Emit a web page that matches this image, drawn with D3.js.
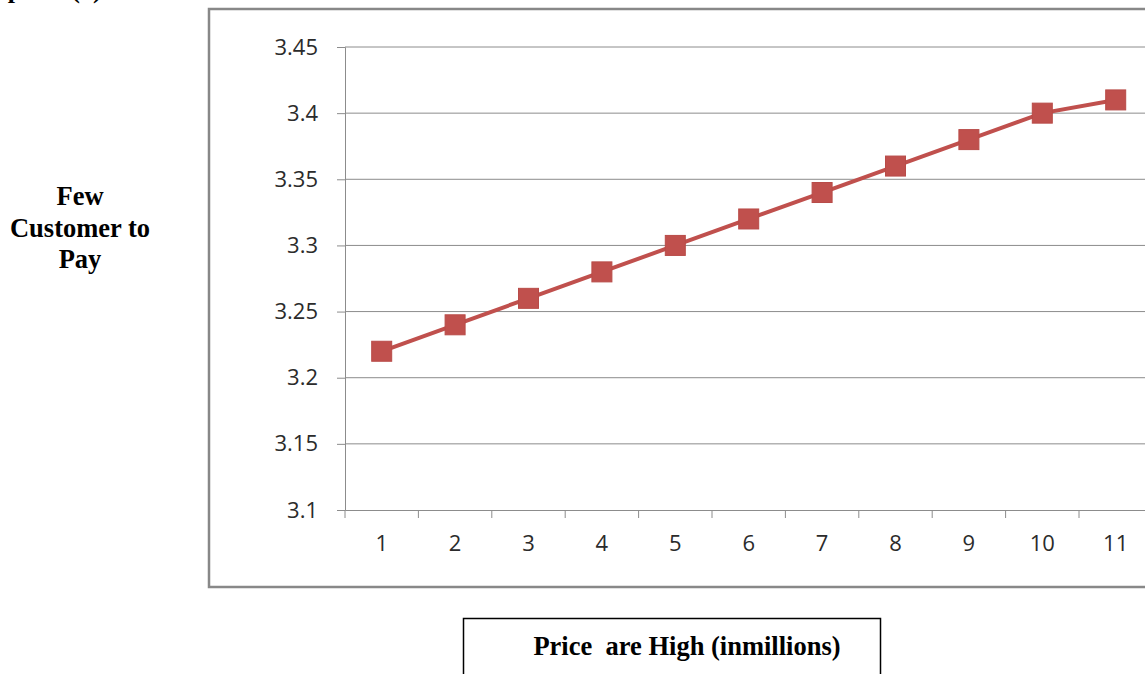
<!DOCTYPE html>
<html><head><meta charset="utf-8">
<script src="https://cdn.jsdelivr.net/npm/d3@7/dist/d3.min.js"></script>
<style>body{margin:0;background:#fff;overflow:hidden}</style>
</head><body>
<svg id="c" width="1145" height="674"></svg>
<script>
const categories = ["1","2","3","4","5","6","7","8","9","10","11"];
const values = [3.22,3.24,3.26,3.28,3.30,3.32,3.34,3.36,3.38,3.40,3.41];
const yTicks = [3.1,3.15,3.2,3.25,3.3,3.35,3.4,3.45];
const yLabelLines = ["Few","Customer to","Pay"];
const xTitle = "Price  are High (inmillions)";
const heading = "Graph:    (6)";

const svg = d3.select("#c");
const pLeft = 345, pTop = 47, pBottom = 510, pRight = 345 + 11*73.4;

// outer frame
svg.append("rect").attr("x",209).attr("y",9).attr("width",1000).attr("height",578)
  .attr("fill","none").attr("stroke","#888").attr("stroke-width",2.5);

// cut-off heading at top
svg.append("text").attr("x",-37).attr("y",-2).attr("font-family","Liberation Serif")
  .attr("font-weight","bold").attr("font-size",26).attr("fill","#000")
  .style("white-space","pre").text(heading);

const x = d3.scaleBand().domain(categories).range([pLeft,pRight]);
const y = d3.scaleLinear().domain([3.1,3.45]).range([pBottom,pTop]);

// gridlines
svg.append("g").selectAll("line").data(yTicks.slice(1)).join("line")
  .attr("x1",pLeft).attr("x2",pRight).attr("y1",d=>y(d)).attr("y2",d=>y(d))
  .attr("stroke","#8c8c8c").attr("stroke-width",1);

const fontAxis = "'Open Sans', 'Noto Sans', sans-serif";
const yAxis = svg.append("g").attr("transform",`translate(${pLeft},0)`)
  .call(d3.axisLeft(y).tickValues(yTicks).tickSize(8).tickPadding(19).tickFormat(d=>String(+d.toFixed(2))));
yAxis.select(".domain").attr("stroke","#8c8c8c");
yAxis.selectAll(".tick line").attr("stroke","#8c8c8c");
yAxis.selectAll("text").attr("font-family",fontAxis).attr("font-size",22).attr("fill","#2b2b2b");

const xAxis = svg.append("g").attr("transform",`translate(0,${pBottom})`)
  .call(d3.axisBottom(x).tickSize(0).tickPadding(25));
xAxis.select(".domain").attr("stroke","#8c8c8c");
xAxis.selectAll("text").attr("font-family",fontAxis).attr("font-size",22).attr("fill","#2b2b2b");
// boundary ticks
svg.append("g").selectAll("line").data(categories).join("line")
  .attr("x1",d=>x(d)).attr("x2",d=>x(d)).attr("y1",pBottom).attr("y2",pBottom+8)
  .attr("stroke","#8c8c8c");

// line
const cx = d=>x(d)+x.bandwidth()/2;
const pts = values.map((v,i)=>[categories[i],v]);
svg.append("path").datum(pts)
  .attr("d",d3.line().x(d=>cx(d[0])).y(d=>y(d[1])))
  .attr("fill","none").attr("stroke","#C0504D").attr("stroke-width",4);

svg.append("g").selectAll("rect").data(pts).join("rect")
  .attr("x",d=>cx(d[0])-10).attr("y",d=>y(d[1])-10).attr("width",20).attr("height",20)
  .attr("fill","#C0504D").attr("stroke","#B84B48").attr("stroke-width",1);

// left label
svg.append("text").attr("font-family","Liberation Serif").attr("font-weight","bold")
  .attr("font-size",26.5).attr("text-anchor","middle").attr("fill","#000")
  .selectAll("tspan").data(yLabelLines).join("tspan")
  .attr("x",80).attr("y",(d,i)=>205+i*31.5).text(d=>d);

// bottom title box
svg.append("rect").attr("x",463.5).attr("y",618.5).attr("width",417).attr("height",80)
  .attr("fill","none").attr("stroke","#000").attr("stroke-width",1.5);
svg.append("text").attr("x",687).attr("y",655).attr("text-anchor","middle")
  .attr("font-family","Liberation Serif").attr("font-weight","bold").attr("font-size",26.5)
  .attr("fill","#000").style("white-space","pre").text(xTitle);
</script>
</body></html>
